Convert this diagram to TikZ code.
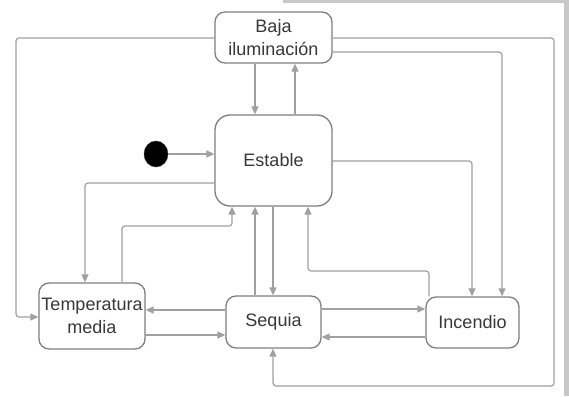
\documentclass[tikz,border=0pt]{standalone}
\usepackage{fontspec}
\setmainfont{Liberation Sans}
\usetikzlibrary{arrows.meta,shapes.geometric}
\definecolor{linec}{HTML}{A0A0A0}
\definecolor{boxc}{HTML}{7E7E7E}
\definecolor{txtc}{HTML}{383838}
\definecolor{bandc}{HTML}{C8C8C8}
\begin{document}
\begin{tikzpicture}[x=1pt,y=-1pt,
  st/.style={draw=boxc, line width=1.3pt, rounded corners=10pt, fill=white,
    text=txtc, align=center, inner sep=0pt,
    font=\fontsize{18}{23}\selectfont},
  arr/.style={draw=linec, line width=1.2pt, rounded corners=3pt,
    -{Triangle[length=8pt,width=7pt]}},
]
\useasboundingbox (0,0) rectangle (569,396);
\fill[bandc] (283,0) rectangle (569,3);
\fill[bandc] (564,0) rectangle (569,396);

\node[st, minimum width=117pt, minimum height=51pt] (baja) at (273.5,37.5) {Baja\\iluminación};
\node[st, rounded corners=15pt, minimum width=117pt, minimum height=91pt] (estable) at (273.5,160.5) {Estable};
\node[st, minimum width=106pt, minimum height=66pt] (temp) at (92,316) {Temperatura\\media};
\node[st, minimum width=95pt, minimum height=52pt] (sequia) at (273.5,322) {Sequia};
\node[st, minimum width=93pt, minimum height=51pt] (incendio) at (472.5,322.5) {Incendio};
\node[draw=black!80, fill=black, ellipse, minimum width=24pt, minimum height=26pt, inner sep=0pt] (dot) at (156,154) {};

% Baja <-> Estable
\draw[arr] (baja.south -| 255,0) -- (estable.north -| 255,0);
\draw[arr] (estable.north -| 295,0) -- (baja.south -| 295,0);
% initial
\draw[arr] (dot.east) -- (dot.east -| estable.west);
% Estable -> Temp
\draw[arr] (estable.west |- 0,183) -| (temp.north -| 85,0);
% Temp -> Estable
\draw[arr] (temp.north -| 122,0) -- (122,226) -- (232,226) -- (estable.south -| 232,0);
% Sequia <-> Estable
\draw[arr] (sequia.north -| 255,0) -- (estable.south -| 255,0);
\draw[arr] (estable.south -| 273,0) -- (sequia.north -| 273,0);
% Incendio -> Estable
\draw[arr] (incendio.north -| 429,0) |- (308,271) -- (estable.south -| 308,0);
% Estable -> Incendio
\draw[arr] (estable.east |- 0,161) -| (incendio.north -| 472,0);
% Baja -> Incendio
\draw[arr] (baja.east |- 0,52) -| (incendio.north -| 502,0);
% Baja -> Sequia
\draw[arr] (baja.east |- 0,38) -| (554,386) -| (sequia.south -| 273,0);
% Baja -> Temp
\draw[arr] (baja.west |- 0,38) -| (16,317) -- (temp.west |- 0,317);
% Sequia <-> Temp
\draw[arr] (sequia.west |- 0,310) -- (temp.east |- 0,310);
\draw[arr] (temp.east |- 0,335) -- (sequia.west |- 0,335);
% Sequia <-> Incendio
\draw[arr] (sequia.east |- 0,309) -- (incendio.west |- 0,309);
\draw[arr] (incendio.west |- 0,337) -- (sequia.east |- 0,337);
\end{tikzpicture}
\end{document}
